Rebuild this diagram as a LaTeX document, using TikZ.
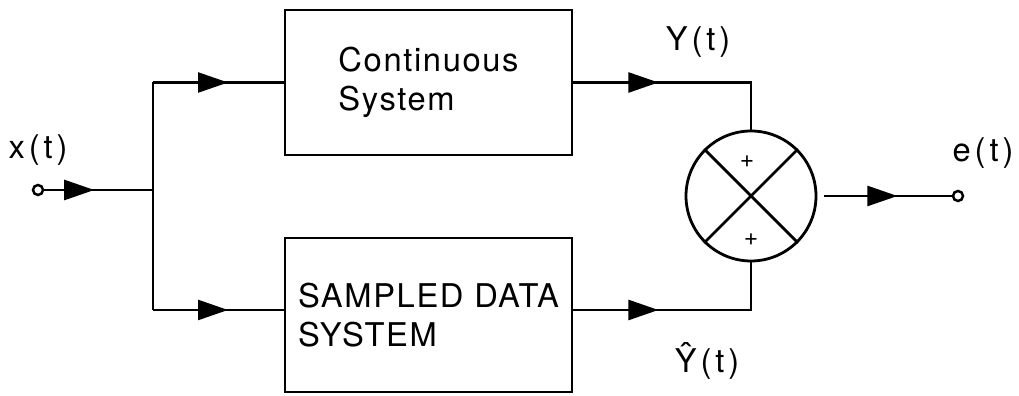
\documentclass[tikz,border=0pt]{standalone}
\usepackage{fontspec}
\setmainfont{TeX Gyre Heros}
\usetikzlibrary{arrows.meta,decorations.markings}

\tikzset{
  sysbox/.style={draw, line width=0.8pt, minimum width=2.87cm, inner sep=0pt, align=left,
    font=\fontsize{9.3}{11.3}\selectfont\addfontfeature{LetterSpace=5}},
  sig/.style={line width=0.7pt},
  midarrow/.style={postaction={decorate,decoration={markings,
    mark=at position #1 with {\arrow{Triangle[length=3mm,width=2mm]}}}}},
  port/.style={draw, circle, line width=0.7pt, inner sep=0pt, minimum size=1mm},
  lbl/.style={font=\fontsize{9.3}{11}\selectfont\addfontfeature{LetterSpace=12}},
  sgn/.style={font=\fontsize{7}{8}\selectfont, inner sep=0pt},
}

\begin{document}
\begin{tikzpicture}
  \useasboundingbox (0,0) rectangle (10.19,3.96);

  % blocks
  \node[sysbox, minimum height=1.45cm] (cont) at (4.285,3.135) {Continuous\\System};
  \node[sysbox, minimum height=1.54cm] (samp) at (4.285,0.81) {SAMPLED DATA\\SYSTEM};

  % summing junction
  \node[draw, circle, line width=0.8pt, minimum size=1.3cm, inner sep=0pt] (sum) at (7.51,2.00) {};
  \draw[line width=0.8pt] (sum.north west) -- (sum.south east);
  \draw[line width=0.8pt] (sum.north east) -- (sum.south west);
  \node[sgn] (ptop) at (7.47,2.34) {+};
  \node[sgn] (pbot) at (7.51,1.56) {+};

  % input and split
  \node[port] (in) at (0.38,2.06) {};
  \coordinate (jn) at (1.53,2.06);
  \coordinate (jtop) at (1.53,3.135);
  \coordinate (jbot) at (1.53,0.86);
  \draw[sig, midarrow=0.5cm] (in) -- (jn);
  \draw[sig] (jtop) -- (jbot);
  \draw[sig, midarrow=0.75cm] (jtop) -- (cont.west);
  \draw[sig, midarrow=0.75cm] (jbot) -- (jbot -| samp.west);

  % into the junction
  \draw[sig, midarrow=0.85cm] (cont.east) -| (sum.north);
  \draw[sig, midarrow=0.85cm] (jbot -| samp.east) -| (sum.south);

  % output
  \node[port] (out) at (9.58,2.00) {};
  \draw[sig, midarrow=0.73cm] ([xshift=0.07cm]sum.east) -- (out);

  % signal names
  \node[lbl] (xlab) at (0.38,2.46) {x(t)};
  \node[lbl] (ylab) at (6.98,3.54) {Y(t)};
  \node[lbl] (yhlab) at (7.07,0.35) {\^{Y}(t)};
  \node[lbl] (elab) at (9.83,2.43) {e(t)};
\end{tikzpicture}
\end{document}
